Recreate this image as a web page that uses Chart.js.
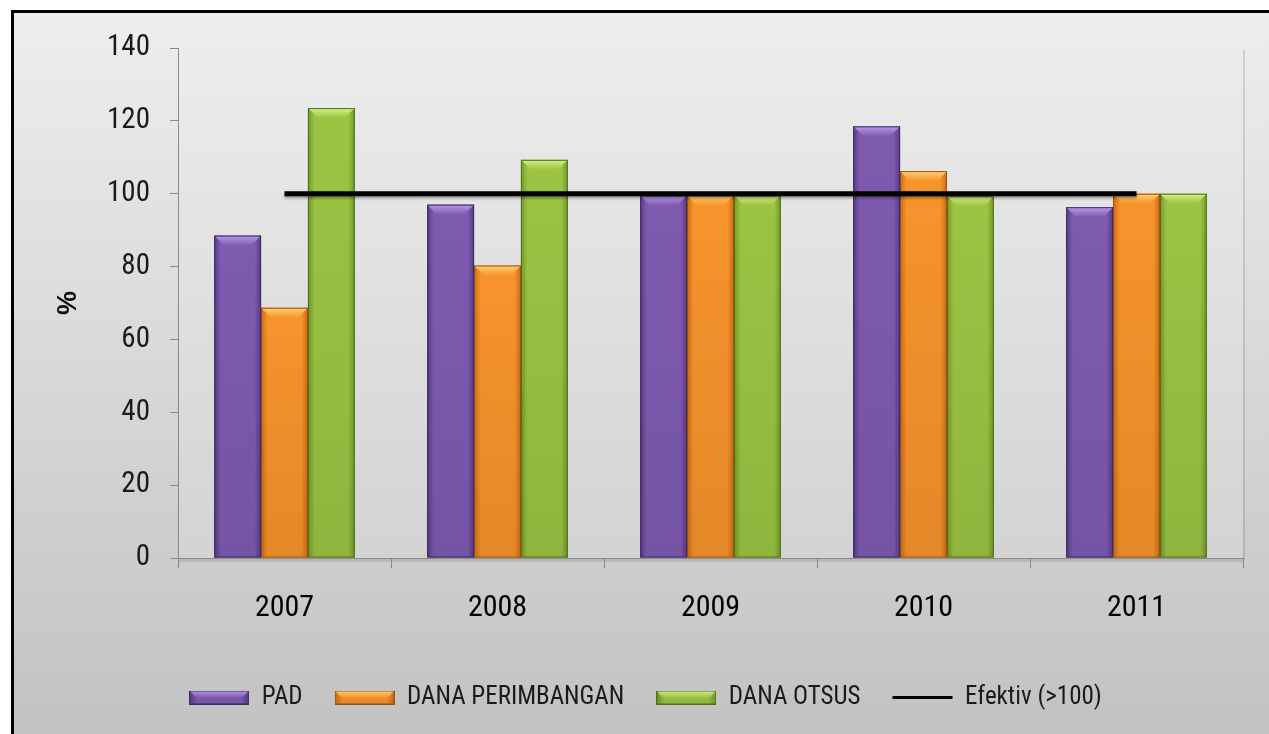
<!DOCTYPE html>
<html>
<head>
<meta charset="utf-8">
<script src="https://cdn.jsdelivr.net/npm/chart.js@4.4.1/dist/chart.umd.min.js"></script>
<style>
  html, body { margin: 0; padding: 0; background: #fff; }
  #wrap { width: 1269px; height: 734px; position: relative; }
</style>
</head>
<body>
<div id="wrap"><canvas id="chart" width="1269" height="734"></canvas></div>
<script>
// data
const years = ['2007', '2008', '2009', '2010', '2011'];
const padValues = [88.5, 97, 99.5, 118.5, 96.3];
const perimbanganValues = [68.7, 80.3, 99.5, 106.2, 100];
const otsusValues = [123.5, 109.3, 99.5, 99.3, 100];
const efektivValues = [100, 100, 100, 100, 100];
const yTicks = [0, 20, 40, 60, 80, 100, 120, 140];

const FONT = "'Roboto Condensed', 'Liberation Sans Narrow', 'Arial Narrow', sans-serif";

// base / dark edge / light top colours per series
const palette = [
  { base: '#7f5bb0', dark: '#573b86', light: '#b89ae8', line: '#3f2a63' },
  { base: '#f7942c', dark: '#cf6d12', light: '#ffd276', line: '#9a5210' },
  { base: '#9cc443', dark: '#6f9a28', light: '#d4f088', line: '#4f6e1c' }
];

function paintBar(ctx, left, top, right, bottom, c) {
  const w = right - left;
  const g = ctx.createLinearGradient(left, 0, right, 0);
  g.addColorStop(0, c.dark);
  g.addColorStop(0.14, c.base);
  g.addColorStop(0.5, c.base);
  g.addColorStop(0.86, c.base);
  g.addColorStop(1, c.dark);
  ctx.fillStyle = g;
  ctx.fillRect(left, top, w, bottom - top);
  // slight darkening toward the floor
  const v = ctx.createLinearGradient(0, top, 0, bottom);
  v.addColorStop(0, 'rgba(0,0,0,0)');
  v.addColorStop(1, 'rgba(0,0,0,0.08)');
  ctx.fillStyle = v;
  ctx.fillRect(left, top, w, bottom - top);
  // top bevel
  const bh = Math.min(10, (bottom - top) / 2);
  const bevel = ctx.createLinearGradient(0, top, 0, top + bh);
  bevel.addColorStop(0, c.light);
  bevel.addColorStop(1, c.base);
  ctx.fillStyle = bevel;
  ctx.beginPath();
  ctx.moveTo(left, top);
  ctx.lineTo(right, top);
  ctx.lineTo(right - bh, top + bh);
  ctx.lineTo(left + bh, top + bh);
  ctx.closePath();
  ctx.fill();
  ctx.strokeStyle = c.line;
  ctx.lineWidth = 1;
  ctx.strokeRect(left + 0.5, top + 0.5, w - 1, bottom - top - 1);
}

// small canvases used as legend swatches
const legendSwatches = palette.map(c => {
  const cv = document.createElement('canvas');
  cv.width = 60;
  cv.height = 14;
  paintBar(cv.getContext('2d'), 0, 0, 60, 14, c);
  return cv;
});

const bevelBars = {
  id: 'bevelBars',
  beforeDatasetDraw(chart, args) {
    if (args.meta.type === 'line') {
      const ctx = chart.ctx;
      ctx.save();
      ctx.shadowColor = 'rgba(0,0,0,0.35)';
      ctx.shadowBlur = 3;
      ctx.shadowOffsetY = 2;
    }
  },
  afterDatasetDraw(chart, args) {
    const meta = args.meta;
    const ctx = chart.ctx;
    if (meta.type === 'line') { ctx.restore(); return; }
    const c = palette[args.index];
    ctx.save();
    meta.data.forEach(el => {
      const p = el.getProps(['x', 'y', 'base', 'width'], true);
      paintBar(ctx, p.x - p.width / 2, p.y, p.x + p.width / 2, p.base, c);
    });
    ctx.restore();
  }
};

const frameBackground = {
  id: 'frameBackground',
  beforeDraw(chart) {
    const { ctx, width, height, chartArea } = chart;
    ctx.save();
    ctx.fillStyle = '#ffffff';
    ctx.fillRect(0, 0, width, height);
    const bg = ctx.createLinearGradient(0, 10, 0, height);
    bg.addColorStop(0, '#eeeeee');
    bg.addColorStop(1, '#c2c2c2');
    ctx.fillStyle = bg;
    ctx.fillRect(11, 10, width - 11, height - 10);
    // plot panel
    const pg = ctx.createLinearGradient(0, chartArea.top, 0, chartArea.bottom);
    pg.addColorStop(0, '#ececec');
    pg.addColorStop(1, '#d3d3d3');
    ctx.fillStyle = pg;
    ctx.fillRect(chartArea.left, chartArea.top, chartArea.right - chartArea.left, chartArea.bottom - chartArea.top);
    ctx.fillStyle = 'rgba(0,0,0,0.12)';
    ctx.fillRect(chartArea.right, chartArea.top + 2, 2, chartArea.bottom - chartArea.top);
    ctx.fillStyle = 'rgba(0,0,0,0.10)';
    ctx.fillRect(chartArea.left, chartArea.bottom + 1, chartArea.right - chartArea.left, 3);
    // black frame
    ctx.fillStyle = '#000';
    ctx.fillRect(11, 10, width - 11, 3);
    ctx.fillRect(11, 10, 3, height - 10);
    ctx.restore();
  }
};

new Chart(document.getElementById('chart'), {
  type: 'bar',
  data: {
    labels: years,
    datasets: [
      { label: 'PAD', data: padValues, backgroundColor: palette[0].base, order: 1 },
      { label: 'DANA PERIMBANGAN', data: perimbanganValues, backgroundColor: palette[1].base, order: 1 },
      { label: 'DANA OTSUS', data: otsusValues, backgroundColor: palette[2].base, order: 1 },
      {
        type: 'line', label: 'Efektiv (>100)', data: efektivValues,
        borderColor: '#000', backgroundColor: '#000', borderWidth: 5,
        pointRadius: 0, fill: false, order: 0
      }
    ]
  },
  options: {
    responsive: false,
    animation: false,
    events: [],
    categoryPercentage: 0.66,
    barPercentage: 1.0,
    layout: { padding: { left: 48, top: 48, right: 26, bottom: 14 } },
    plugins: {
      tooltip: { enabled: false },
      legend: {
        position: 'bottom',
        labels: {
          usePointStyle: true,
          pointStyleWidth: 60,
          boxHeight: 14,
          padding: 32,
          color: '#1a1a1a',
          font: { family: FONT, size: 25 },
          sort: (a, b) => a.datasetIndex - b.datasetIndex,
          generateLabels(chart) {
            const items = Chart.defaults.plugins.legend.labels.generateLabels(chart);
            items.forEach(it => {
              if (it.datasetIndex < 3) {
                it.pointStyle = legendSwatches[it.datasetIndex];
              } else {
                it.pointStyle = 'line';
                it.strokeStyle = '#000';
                it.lineWidth = 3;
              }
            });
            return items;
          }
        }
      }
    },
    scales: {
      x: {
        grid: { drawOnChartArea: false, drawTicks: true, tickLength: 10, color: '#8a8a8a', offset: true },
        border: { display: true, color: '#8a8a8a', width: 1 },
        ticks: { color: '#000', padding: 22, font: { family: FONT, size: 30 } },
        afterFit(scale) { scale.height = 95; }
      },
      y: {
        min: 0,
        max: 140,
        afterBuildTicks(scale) { scale.ticks = yTicks.map(v => ({ value: v })); },
        grid: { drawOnChartArea: false, drawTicks: true, tickLength: 8, color: '#8a8a8a' },
        border: { display: true, color: '#8a8a8a', width: 1 },
        ticks: { color: '#1a1a1a', padding: 20, font: { family: FONT, size: 29 } },
        title: {
          display: true,
          text: '%',
          color: '#111',
          padding: { top: 4, bottom: 0 },
          font: { family: "'Liberation Sans', Arial, sans-serif", size: 27, weight: 'bold' }
        },
        afterFit(scale) { scale.width = 130; }
      }
    }
  },
  plugins: [frameBackground, bevelBars]
});
</script>
</body>
</html>
